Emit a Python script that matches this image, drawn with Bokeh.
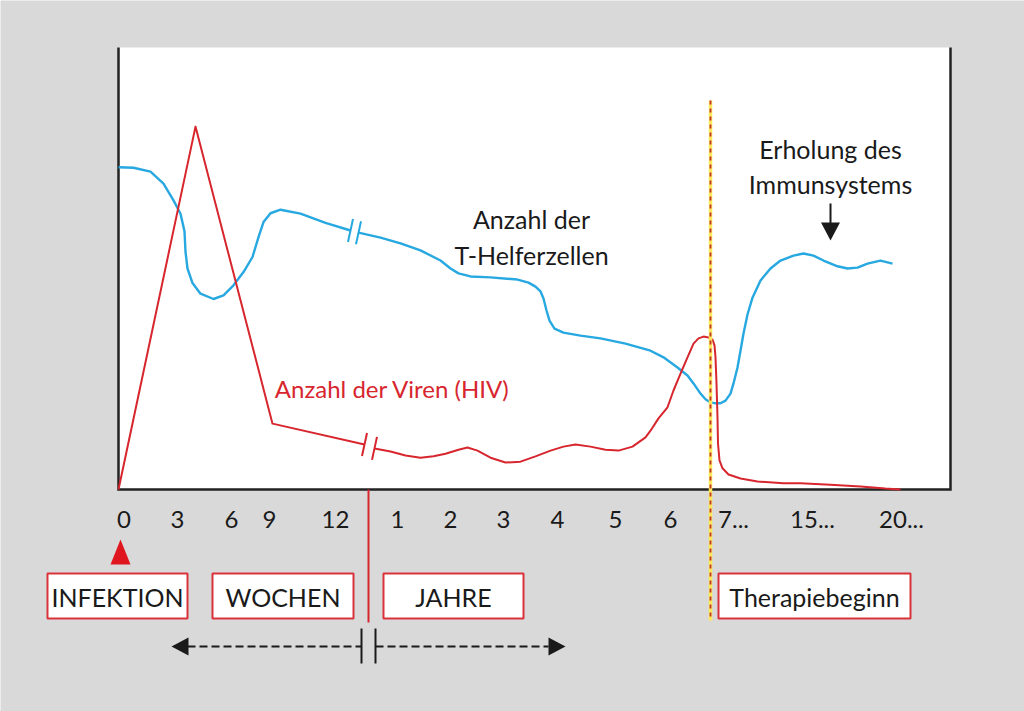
from bokeh.plotting import figure
from bokeh.models import Range1d
from bokeh.core.properties import value
from bokeh.embed import file_html
from bokeh.resources import INLINE

# ---------------- data (schematic units: x = timeline position 0..832, y = level 0..100) -------------
tick_pos = [5.5, 59, 113, 151, 217, 279, 332, 385, 439, 497, 552, 615, 694, 783]
tick_labels = ["0", "3", "6", "9", "12", "1", "2", "3", "4", "5", "6", "7...", "15...", "20..."]

# T-Helferzellen, before and after the axis break
thelper_x1 = [0, 15, 32, 45, 55, 62, 66, 67, 69, 74, 82, 95, 105, 115, 125, 134, 140, 145, 152, 162, 182,
              207, 232]
thelper_y1 = [72.9, 72.8, 71.9, 69.2, 65.4, 62.4, 58.4, 53.8, 50.0, 46.7, 44.3, 43.1, 43.9, 46.2, 49.2, 52.6,
              57.1, 60.5, 62.5, 63.3, 62.4, 60.3, 58.6]
thelper_x2 = [240, 262, 282, 302, 322, 332, 340, 352, 372, 399, 410, 417, 422, 425, 428, 431, 436, 445, 462,
              482, 507, 532, 545, 559, 569, 575, 582, 587, 592, 597, 602, 607, 612, 615, 619, 622, 625, 629,
              634, 642, 652, 662, 675, 685, 695, 705, 719, 729, 739, 749, 762, 774]
thelper_y2 = [58.1, 57.0, 55.7, 54.1, 51.8, 50.0, 48.9, 48.2, 48.0, 47.5, 46.8, 45.9, 44.8, 43.2, 40.5, 38.2,
              36.4, 35.5, 34.8, 34.2, 33.0, 31.4, 29.9, 27.6, 25.8, 24.0, 21.7, 20.4, 19.7, 19.5, 19.5, 20.1,
              21.7, 24.0, 27.6, 31.4, 35.3, 39.6, 43.4, 47.3, 50.0, 51.8, 52.9, 53.4, 52.9, 51.8, 50.5, 50.0,
              50.2, 51.1, 51.8, 51.1]

# Viren (HIV), before and after the axis break
virus_x1 = [0, 77, 154, 246]
virus_y1 = [0.0, 82.1, 14.9, 10.2]
virus_x2 = [256, 272, 287, 302, 315, 327, 340, 349, 359, 372, 387, 402, 417, 432, 445, 457, 472, 487, 500,
            514, 527, 532, 540, 549, 555, 562, 569, 575, 580, 585, 590, 594, 596, 597, 598, 599, 599.5, 601,
            604, 610, 622, 639, 665, 682, 712, 742, 767, 782]
virus_y2 = [9.3, 8.6, 7.7, 7.2, 7.5, 8.1, 9.0, 9.5, 8.8, 7.2, 6.1, 6.3, 7.5, 8.8, 9.7, 10.2, 9.7, 9.0, 8.8,
            9.7, 11.8, 13.3, 16.1, 18.6, 22.4, 26.2, 29.9, 33.0, 34.2, 34.6, 34.4, 33.9, 32.6, 29.9, 24.0,
            16.3, 10.4, 6.6, 4.8, 3.4, 2.5, 1.8, 1.4, 1.4, 1.1, 0.7, 0.2, 0.0]

therapy_x = 592          # Therapiebeginn
phase_split_x = 250      # Wochen | Jahre
infection_x = 2

phase_names = ["INFEKTION", "WOCHEN", "JAHRE", "Therapiebeginn"]
phase_left = [-71, 94, 265, 600]
phase_right = [69, 235, 405, 792]

# ---------------- layout helpers ----------------
W, H = 1024, 711
X0, Y0 = 118, 489          # pixel position of the plot origin
PX = 4.42                  # pixels per y unit
PLOT_W, PLOT_H = 832, 100


def py(pix):
    """pixel length -> y units"""
    return pix / PX


FONT = value("Lato")
BLACK = "#1a1a1a"
RED = "#d7262e"
BLUE = "#27a8e0"
BG = "#d9d9d9"

p = figure(width=W, height=H,
           x_range=Range1d(-X0, W - X0), y_range=Range1d(-(H - Y0) / PX, Y0 / PX),
           x_axis_type=None, y_axis_type=None, toolbar_location=None,
           output_backend="svg", min_border=0, outline_line_color=None,
           background_fill_color=BG, border_fill_color=BG)

# plot area
p.quad(left=[0], right=[PLOT_W], bottom=[0], top=[PLOT_H], fill_color="white", line_color=None)
p.line(x=[0, 0, PLOT_W, PLOT_W], y=[PLOT_H, 0, 0, PLOT_H], line_color="#222222", line_width=2.5,
       line_join="miter")

# curves
for xs, ys, c, w in [(thelper_x1, thelper_y1, BLUE, 2.4), (thelper_x2, thelper_y2, BLUE, 2.4),
                     (virus_x1, virus_y1, RED, 2), (virus_x2, virus_y2, RED, 2)]:
    p.line(xs, ys, line_color=c, line_width=w, line_join="round")


# break marks on both curves
def marks(xa, ya, xb, yb, color):
    mx = [xa, xb]
    my = [ya, yb]
    p.segment(x0=[x + 2.5 for x in mx], y0=[y + py(11.5) for y in my],
              x1=[x - 2.5 for x in mx], y1=[y - py(11.5) for y in my],
              line_color=color, line_width=2)


marks(thelper_x1[-1], thelper_y1[-1], thelper_x2[0], thelper_y2[0], BLUE)
marks(virus_x1[-1], virus_y1[-1], virus_x2[0], virus_y2[0], RED)

# therapy start line (yellow with red dashes)
p.segment(x0=[therapy_x], y0=[py(489 - 100)], x1=[therapy_x], y1=[-py(620 - 489)],
          line_color="#fde75e", line_width=3.5)
p.segment(x0=[therapy_x], y0=[py(489 - 100)], x1=[therapy_x], y1=[-py(620 - 489)],
          line_color="#c0342c", line_width=1.8, line_dash="4 4")

# separator weeks / years
p.segment(x0=[phase_split_x], y0=[0], x1=[phase_split_x], y1=[-py(622 - 489)],
          line_color=RED, line_width=2)

# tick labels
p.text(x=tick_pos, y=[-py(30)] * len(tick_pos), text=tick_labels, text_font=FONT,
       text_font_size="24px", text_align="center", text_baseline="middle", text_color=BLACK)

# infection marker
tri_tip = -py(539 - 489)
tri_base = -py(564 - 489)
p.patch(x=[infection_x - 10, infection_x, infection_x + 10], y=[tri_base, tri_tip, tri_base],
        fill_color="#e0161f", line_color=None)

# phase boxes
box_top = -py(573 - 489)
box_bot = -py(618 - 489)
p.quad(left=phase_left, right=phase_right, top=[box_top] * 4, bottom=[box_bot] * 4,
       fill_color="white", line_color="#d9323a", line_width=2)
p.text(x=[(l + r) / 2 for l, r in zip(phase_left, phase_right)], y=[(box_top + box_bot) / 2 - py(1)] * 4,
       text=phase_names, text_font=FONT, text_font_size="25px", text_align="center",
       text_baseline="middle", text_color=BLACK)

# double arrow weeks <-> years
ay = -py(646 - 489)
hh = py(9)
p.segment(x0=[69, 257], y0=[ay, ay], x1=[243, 430], y1=[ay, ay], line_color=BLACK, line_width=2,
          line_dash="8 4")
p.segment(x0=[243, 257], y0=[-py(628 - 489)] * 2, x1=[243, 257], y1=[-py(663 - 489)] * 2,
          line_color=BLACK, line_width=2)
p.patches(xs=[[53, 70, 70], [447, 430, 430]], ys=[[ay, ay + hh, ay - hh], [ay, ay + hh, ay - hh]],
          fill_color=BLACK, line_color=None)

# curve labels
p.text(x=[413, 413], y=[py(489 - 218), py(489 - 254)], text=["Anzahl der", "T-Helferzellen"],
       text_font=FONT, text_font_size="25px", text_align="center", text_baseline="middle", text_color=BLACK)
p.text(x=[274], y=[py(489 - 388)], text=["Anzahl der Viren (HIV)"], text_font=FONT, text_font_size="24px",
       text_align="center", text_baseline="middle", text_color=RED)
p.text(x=[712, 712], y=[py(489 - 148), py(489 - 183)], text=["Erholung des", "Immunsystems"],
       text_font=FONT, text_font_size="25px", text_align="center", text_baseline="middle", text_color=BLACK)

# recovery arrow
p.segment(x0=[712], y0=[py(489 - 203)], x1=[712], y1=[py(489 - 226)], line_color=BLACK, line_width=2)
p.patch(x=[702.5, 712, 721.5], y=[py(489 - 222), py(489 - 240), py(489 - 222)], fill_color=BLACK,
        line_color=None)

open("out.html", "w").write(file_html(p, INLINE))
